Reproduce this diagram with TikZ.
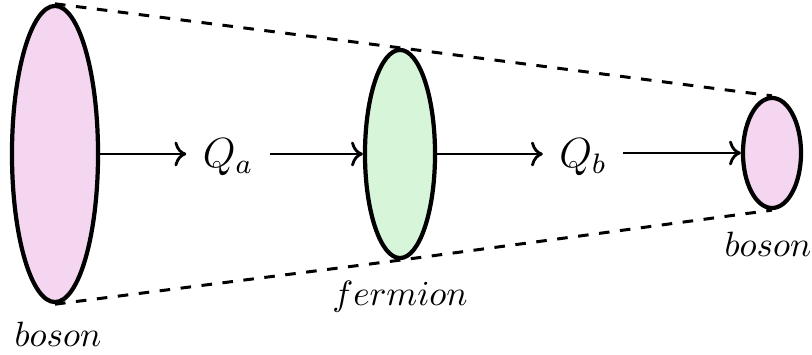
\documentclass[tikz,border=0pt]{standalone}
\usepackage{amsmath}
\usepackage{tikz}
\usetikzlibrary{arrows.meta, positioning, shapes.geometric}
\definecolor{cpink}{HTML}{F4D6F1}
\definecolor{cgreen}{HTML}{D7F5D8}

\begin{document}
\begin{tikzpicture}[x=0.01cm, y=-0.01cm,
  blob/.style={ellipse, draw=black, line width=1.2pt, inner sep=0pt},
  flow/.style={->, line width=0.8pt},
  lbl/.style={inner sep=4.5pt, font=\large}]
  \useasboundingbox (0,0) rectangle (812,355);
  % the three states
  \node[blob, fill=cpink, minimum width=0.86cm, minimum height=2.96cm] (lb) at (55,154) {};
  \node[blob, fill=cgreen, minimum width=0.70cm, minimum height=2.08cm] (fm) at (400,154) {};
  \node[blob, fill=cpink, minimum width=0.58cm, minimum height=1.10cm] (rb) at (772,153) {};
  % envelope
  \draw[dashed, line width=0.85pt] (lb.north) -- (fm.north) -- (rb.north);
  \draw[dashed, line width=0.85pt] (lb.south) -- (fm.south) -- (rb.south);
  % charges
  \node[lbl] (qa) at (228,157) {$Q_a$};
  \node[lbl] (qb) at (583,157) {$Q_b$};
  \draw[flow] (lb.east) -- (lb.east -| qa.west);
  \draw[flow] (qa.east |- fm.west) -- (fm.west);
  \draw[flow] (fm.east) -- (fm.east -| qb.west);
  \draw[flow] (qb.east |- rb.west) -- (rb.west);
  % names
  \node (nl) at (58,334) {$boson$};
  \node (nf) at (400,297) {$fermion$};
  \node (nr) at (768,244) {$boson$};
\end{tikzpicture}
\end{document}
